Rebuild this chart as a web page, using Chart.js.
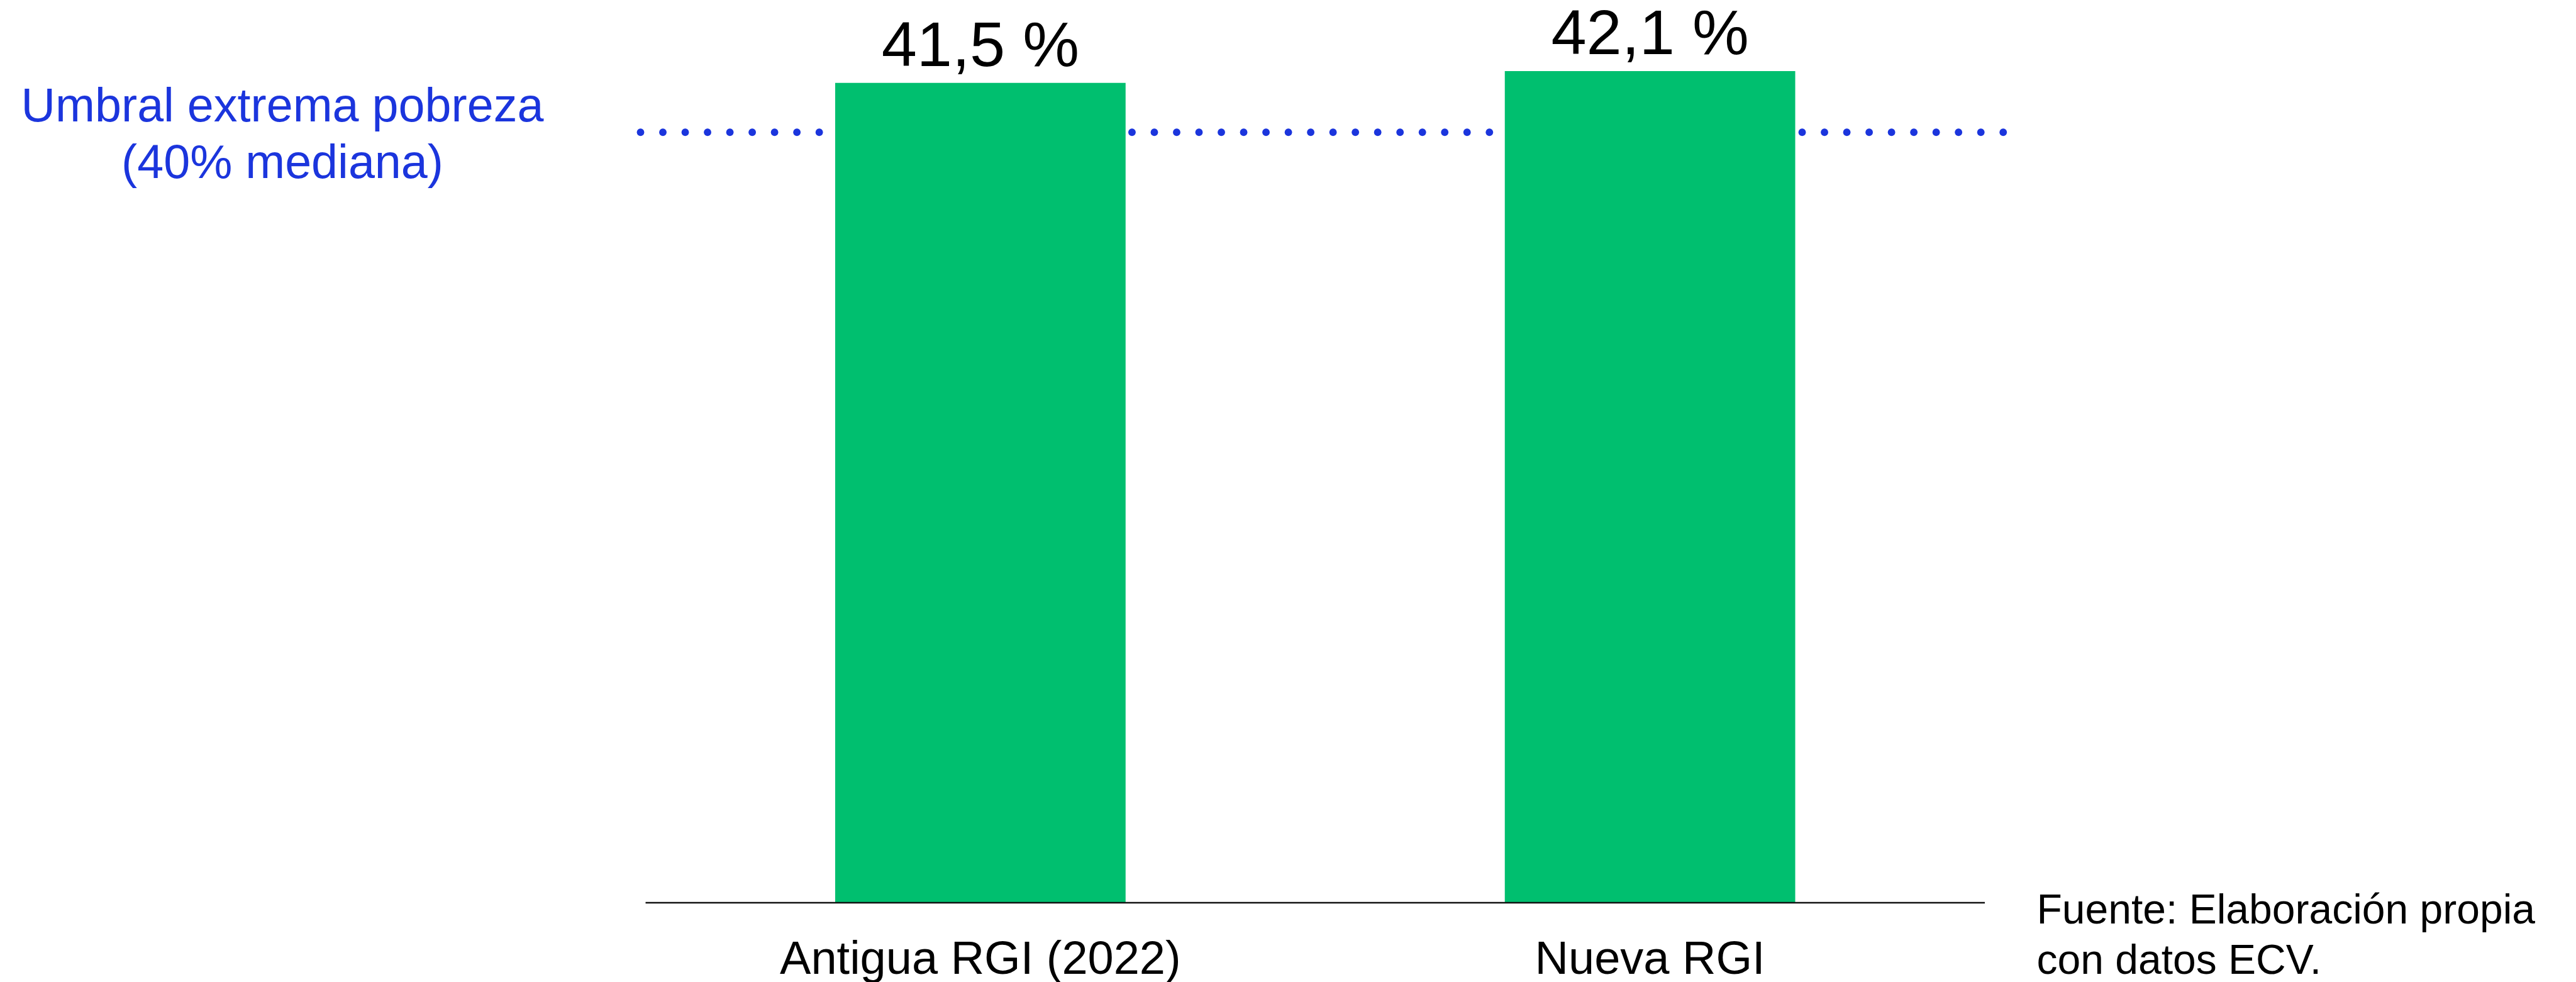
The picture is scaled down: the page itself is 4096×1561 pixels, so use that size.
<!DOCTYPE html>
<html>
<head>
<meta charset="utf-8">
<script src="https://cdn.jsdelivr.net/npm/chart.js@4.4.0/dist/chart.umd.min.js"></script>
<style>
  html, body { margin: 0; padding: 0; background: #ffffff; }
  #wrap { width: 4096px; height: 1561px; position: relative; }
  canvas { display: block; }
</style>
</head>
<body>
<div id="wrap"><canvas id="c" width="4096" height="1561"></canvas></div>
<script>
// ---- Data ----
const categories = ['Antigua RGI (2022)', 'Nueva RGI'];
const values = [41.5, 42.1];
const thresholdValue = 39.0;
const thresholdLabel = ['Umbral extrema pobreza', '(40% mediana)'];
const sourceLines = ['Fuente: Elaboración propia', 'con datos ECV.'];
const yMin = 0;
const yMax = 45;

// ---- Style ----
const FONT = '"Liberation Sans", Helvetica, Arial, sans-serif';
const GREEN = '#00bf6f';
const BLUE = '#1b35dd';

function fmt(v) { return v.toFixed(1).replace('.', ',') + ' %'; }

const overlay = {
  id: 'overlay',
  beforeDatasetsDraw(chart) {
    const ctx = chart.ctx;
    const ca = chart.chartArea;
    const y = chart.scales.y.getPixelForValue(thresholdValue);
    const start = ca.left - 8;
    const end = ca.right + 29.5;
    const spacing = 35.52;
    const n = Math.round((end - start) / spacing) + 1;
    ctx.save();
    ctx.fillStyle = BLUE;
    for (let i = 0; i < n; i++) {
      ctx.beginPath();
      ctx.arc(start + i * spacing, y, 5.9, 0, Math.PI * 2);
      ctx.fill();
    }
    ctx.restore();
  },
  afterDatasetsDraw(chart) {
    const ctx = chart.ctx;
    const ca = chart.chartArea;
    const xs = chart.scales.x;
    const ys = chart.scales.y;
    ctx.save();
    // axis line
    ctx.strokeStyle = '#111111';
    ctx.lineWidth = 2.4;
    ctx.beginPath();
    ctx.moveTo(ca.left, ca.bottom + 1);
    ctx.lineTo(ca.right, ca.bottom + 1);
    ctx.stroke();

    // value labels
    const meta = chart.getDatasetMeta(0);
    ctx.fillStyle = '#000000';
    ctx.textAlign = 'center';
    ctx.textBaseline = 'alphabetic';
    ctx.font = '101px ' + FONT;
    meta.data.forEach((bar, i) => {
      ctx.fillText(fmt(values[i]), bar.x, bar.y - 26.5);
    });

    // category labels
    ctx.font = '74px ' + FONT;
    categories.forEach((c, i) => {
      ctx.fillText(c, xs.getPixelForValue(i), ca.bottom + 114);
    });

    // threshold label
    const ty = ys.getPixelForValue(thresholdValue);
    ctx.fillStyle = BLUE;
    ctx.font = '75.5px ' + FONT;
    ctx.fillText(thresholdLabel[0], 449, ty - 17);
    ctx.fillText(thresholdLabel[1], 449, ty + 72.6);

    // source
    ctx.fillStyle = '#000000';
    ctx.textAlign = 'left';
    ctx.font = '66px ' + FONT;
    ctx.fillText(sourceLines[0], ca.right + 82.5, ca.bottom + 33.6);
    ctx.fillText(sourceLines[1], ca.right + 82.5, ca.bottom + 113.8);
    ctx.restore();
  }
};

new Chart(document.getElementById('c'), {
  type: 'bar',
  data: {
    labels: categories,
    datasets: [{
      data: values,
      backgroundColor: GREEN,
      borderWidth: 0,
      barPercentage: 0.4337,
      categoryPercentage: 1.0
    }]
  },
  options: {
    responsive: false,
    animation: false,
    devicePixelRatio: 1,
    layout: { padding: { left: 1026.5, right: 940, top: 22, bottom: 127 } },
    plugins: { legend: { display: false }, tooltip: { enabled: false } },
    scales: {
      x: { type: 'category', display: false, offset: true, grid: { display: false } },
      y: { display: false, min: yMin, max: yMax }
    }
  },
  plugins: [overlay]
});
</script>
</body>
</html>
